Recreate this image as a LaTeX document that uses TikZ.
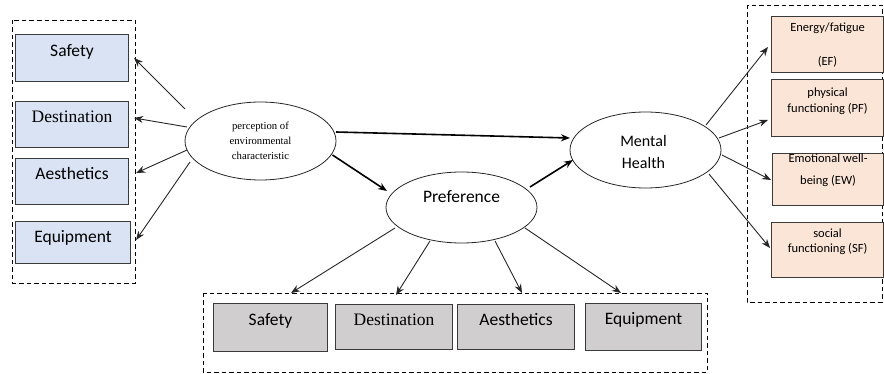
\documentclass[tikz,border=0pt]{standalone}
\usepackage{fontspec}
\setmainfont{Carlito}
\newfontfamily\seriffont{Liberation Serif}
\usetikzlibrary{arrows.meta,shapes.geometric}
\definecolor{bluefill}{HTML}{DAE3F3}
\definecolor{peachfill}{HTML}{FBE5D6}
\definecolor{grayfill}{HTML}{D0CECE}
\definecolor{boxline}{HTML}{3A3A3A}
\tikzset{
  box/.style={draw=boxline, line width=1.1pt, anchor=north west, inner sep=0pt},
  lblue/.style={box, fill=bluefill},
  rpeach/.style={box, fill=peachfill},
  bgray/.style={box, fill=grayfill},
  toplabel/.style={anchor=base, align=center, inner sep=0pt},
  bigsans/.style={font=\fontsize{17.5}{20}\selectfont},
  bigserif/.style={font=\seriffont\fontsize{17.5}{20}\selectfont},
  oval/.style={draw=black!85, ellipse, line width=0.8pt, inner sep=0pt},
  arr/.style={-{Stealth[length=9pt,width=7pt]}, line width=0.9pt, black!85},
  thickarr/.style={-{Stealth[length=9pt,width=7pt]}, line width=1.6pt},
  dashbox/.style={draw, line width=0.8pt, dash pattern=on 4.5pt off 3pt},
}
\begin{document}
\begin{tikzpicture}[x=1pt,y=-1pt]
\useasboundingbox (0,0) rectangle (884,374);
% dashed group frames
\draw[dashbox] (12,20) rectangle (135,283);
\draw[dashbox] (747,5) rectangle (882,302);
\draw[dashbox] (203,293) rectangle (707,372);

% left boxes
\node[lblue, minimum width=113pt, minimum height=47pt,
  label={[toplabel, bigsans, yshift=-23pt]north:Safety}] (ls) at (15,34) {};
\node[lblue, minimum width=113pt, minimum height=46pt,
  label={[toplabel, bigserif, yshift=-22pt]north:Destination}] (ld) at (15,101) {};
\node[lblue, minimum width=113pt, minimum height=46pt,
  label={[toplabel, bigsans, yshift=-22pt]north:Aesthetics}] (la) at (15,158) {};
\node[lblue, minimum width=115pt, minimum height=42pt,
  label={[toplabel, bigsans, yshift=-22pt]north:Equipment}] (le) at (15,221) {};

% bottom boxes
\node[bgray, minimum width=114pt, minimum height=48pt,
  label={[toplabel, bigsans, yshift=-22pt]north:Safety}] (bs) at (213,303) {};
\node[bgray, minimum width=117pt, minimum height=45pt,
  label={[toplabel, bigserif, yshift=-22pt]north:Destination}] (bd) at (335,304) {};
\node[bgray, minimum width=117pt, minimum height=45pt,
  label={[toplabel, bigsans, yshift=-22pt]north:Aesthetics}] (ba) at (457,304) {};
\node[bgray, minimum width=116pt, minimum height=47pt,
  label={[toplabel, bigsans, yshift=-21pt]north:Equipment}] (be) at (585,303) {};

% right boxes (label base = last line baseline)
\node[rpeach, minimum width=112pt, minimum height=56pt,
  label={[toplabel, font=\fontsize{12.5}{34}\selectfont, yshift=-50pt]north:Energy/fatigue\\(EF)}] (ref) at (771,16) {};
\node[rpeach, minimum width=112pt, minimum height=57pt,
  label={[toplabel, font=\fontsize{12.5}{16}\selectfont, yshift=-34pt]north:physical\\functioning (PF)}] (rpf) at (771,79) {};
\node[rpeach, minimum width=111pt, minimum height=52pt,
  label={[toplabel, font=\fontsize{12.5}{22}\selectfont, yshift=-32pt]north:Emotional well-\\being (EW)}] (rew) at (772,153) {};
\node[rpeach, minimum width=112pt, minimum height=55pt,
  label={[toplabel, font=\fontsize{12.5}{15}\selectfont, yshift=-31pt]north:social\\functioning (SF)}] (rsf) at (771,222) {};

% ellipses
\node[oval, minimum width=151pt, minimum height=78pt,
  label={[toplabel, font=\seriffont\fontsize{10.7}{15}\selectfont, yshift=-58pt]north:perception of\\environmental\\characteristic}] (perc) at (260.5,141) {};
\node[oval, minimum width=151pt, minimum height=76pt,
  label={[toplabel, font=\fontsize{16}{22}\selectfont, xshift=-2pt, yshift=-57pt]north:Mental\\Health}] (mh) at (645.5,150) {};
\node[oval, minimum width=151pt, minimum height=71pt,
  label={[toplabel, font=\fontsize{17.5}{20}\selectfont, yshift=-31pt]north:Preference}] (pref) at (461.5,207.5) {};

% arrows perception -> left boxes
\draw[arr] ([shift={(-75.5,-32)}]perc.center) -- ([shift={(5,24)}]ls.north east);
\draw[arr] ([shift={(-73.5,-14)}]perc.center) -- ([shift={(5,17)}]ld.north east);
\draw[arr] ([shift={(-73.5,9)}]perc.center) -- ([shift={(7,15)}]la.north east);
\draw[arr] ([shift={(-70.5,21)}]perc.center) -- ([shift={(5,19)}]le.north east);

% main paths
\draw[thickarr] ([shift={(75.5,-9)}]perc.center) -- ([shift={(-75.5,-12)}]mh.center);
\draw[thickarr] ([shift={(72,14)}]perc.center) -- ([shift={(-74.5,-16.5)}]pref.center);
\draw[thickarr] ([shift={(68.5,-20.5)}]pref.center) -- ([shift={(-72.5,10)}]mh.center);

% preference -> bottom boxes
\draw[arr] ([shift={(-66.5,20.5)}]pref.center) -- ([shift={(78,-10)}]bs.north west);
\draw[arr] ([shift={(-31.5,33.5)}]pref.center) -- ([shift={(61,-9)}]bd.north west);
\draw[arr] ([shift={(33.5,33.5)}]pref.center) -- ([shift={(65,-11)}]ba.north west);
\draw[arr] ([shift={(63.5,20.5)}]pref.center) -- ([shift={(36,-10)}]be.north west);

% mental health -> right boxes
\draw[arr] ([shift={(60.5,-25)}]mh.center) -- ([shift={(-3,31)}]ref.north west);
\draw[arr] ([shift={(73.5,-12)}]mh.center) -- ([shift={(-3,41)}]rpf.north west);
\draw[arr] ([shift={(76.5,5)}]mh.center) -- ([shift={(-1,27)}]rew.north west);
\draw[arr] ([shift={(63.5,24)}]mh.center) -- ([shift={(-1,26)}]rsf.north west);
\end{tikzpicture}
\end{document}
